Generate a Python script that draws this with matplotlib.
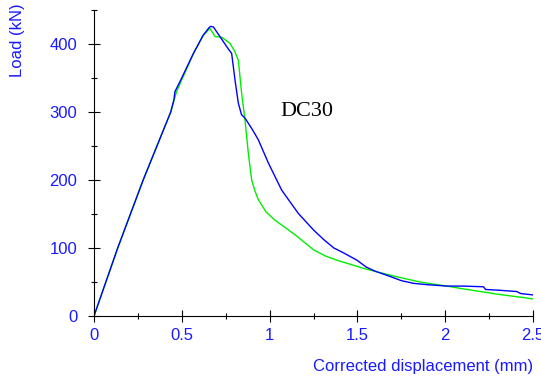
import numpy as np
import matplotlib
matplotlib.use('Agg')
import matplotlib.pyplot as plt
from matplotlib.ticker import MultipleLocator

# blue test curve (displacement mm, load kN)
disp_blue = [0, 0.135, 0.28, 0.437, 0.455, 0.461, 0.49, 0.566, 0.622, 0.655, 0.665, 0.68,
             0.717, 0.756, 0.784, 0.803, 0.822, 0.84, 0.86, 0.9, 0.936, 0.993, 1.069,
             1.163, 1.252, 1.31, 1.366, 1.42, 1.498, 1.55, 1.6, 1.688, 1.75, 1.82,
             1.9, 2.01, 2.1, 2.218, 2.23, 2.3, 2.407, 2.43, 2.5]
load_blue = [0, 100, 200, 300, 318, 330, 345, 386, 413, 424, 426, 425,
             411, 396, 386, 347, 313, 296, 291, 275, 259, 225, 185,
             151, 126, 112, 100, 93, 82, 72, 66, 58, 52, 48,
             46, 44, 44, 43, 39, 38, 36, 33, 31]

# green test curve
disp_green = [0, 0.135, 0.28, 0.437, 0.47, 0.566, 0.62, 0.66, 0.689, 0.727, 0.774, 0.80,
              0.822, 0.841, 0.86, 0.879, 0.898, 0.915, 0.936, 0.98, 1.03, 1.1,
              1.157, 1.252, 1.32, 1.384, 1.46, 1.536, 1.61, 1.688, 1.77, 1.858,
              1.93, 2.01, 2.1, 2.2, 2.3, 2.388, 2.45, 2.5]
load_green = [0, 100, 200, 300, 330, 386, 412, 423, 411, 410, 401, 390,
              376, 327, 288, 239, 200, 185, 171, 153, 141, 128,
              117, 97, 88, 82, 76, 70, 65, 60, 55, 50,
              47, 44, 40, 36, 32, 29, 27, 25]

plt.rcParams['font.family'] = ['Liberation Sans', 'DejaVu Sans']

fig = plt.figure(figsize=(5.41, 3.81), dpi=100)
ax = fig.add_axes([94/541, 65/381, (533-94)/541, (371-65)/381])

ax.plot(disp_green, load_green, color='#00ee00', lw=1.0)
ax.plot(disp_blue, load_blue, color='#0000ff', lw=1.0)

ax.set_xlim(0, 2.5)
ax.set_ylim(0, 450)
ax.spines['top'].set_visible(False)
ax.spines['right'].set_visible(False)
ax.spines['left'].set_linewidth(0.8)
ax.spines['bottom'].set_linewidth(0.8)

ax.xaxis.set_minor_locator(MultipleLocator(0.25))
ax.yaxis.set_major_locator(MultipleLocator(100))
ax.yaxis.set_minor_locator(MultipleLocator(50))
ax.set_xticks([0, 0.5, 1, 1.5, 2, 2.5])
ax.set_xticklabels(['0', '0.5', '1', '1.5', '2', '2.5'])
ax.tick_params(which='major', direction='inout', length=8, width=0.8,
               labelsize=12, labelcolor='#1a1aff', pad=5)
ax.tick_params(which='minor', direction='inout', length=5, width=0.8)
ax.tick_params(axis='y', which='major', pad=8)

fig.text(533/541, 14/381, 'Corrected displacement (mm)', color='#1a1aff',
         fontsize=12, ha='right', va='center')
fig.text(18/541, 1 - 3/381, 'Load (kN)', color='#1a1aff', fontsize=12,
         rotation=90, ha='center', va='top')

ax.text(1.06, 301, 'DC30', family='Liberation Serif', fontsize=16,
        ha='left', va='center', color='black')

fig.savefig('out.png', dpi=100)
